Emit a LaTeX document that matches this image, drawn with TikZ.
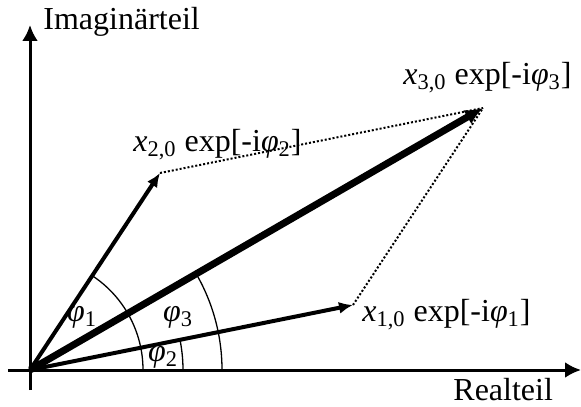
\documentclass[tikz,border=0pt]{standalone}
\usepackage{fontspec}
\setmainfont{Liberation Serif}
\usetikzlibrary{arrows.meta}

\begin{document}
\begin{tikzpicture}[x=0.5pt, y=0.5pt, >={Latex[length=8pt, width=8pt]},
  every node/.style={font=\fontsize{16}{19}\selectfont, inner sep=0pt},
  axis/.style={->, line width=1.5pt},
  zeiger/.style={-{Latex[length=7pt, width=6pt]}, line width=2pt},
  hilfs/.style={line width=1pt, dash pattern=on 1pt off 1pt},
  winkel/.style={line width=0.65pt}]
  \useasboundingbox (-30,-36) rectangle (551,370);
  % Achsen
  \coordinate (O) at (0,0);
  \coordinate (xa) at (-22,0);
  \coordinate (xe) at (551,0);
  \coordinate (ya) at (0,-20);
  \coordinate (ye) at (0,345);
  \draw[axis] (xa) -- (xe);
  \draw[axis] (ya) -- (ye);
  \node[anchor=west] (re) at (423,-20) {Realteil};
  \node[anchor=west] (im) at (13,348) {Imaginärteil};
  % Zeiger
  \coordinate (z1) at (323,65);
  \coordinate (z2) at (130,197);
  \coordinate (z3) at (453,262);
  \draw[hilfs] (z2) -- (z3);
  \draw[hilfs] (z1) -- (z3);
  \draw[zeiger] (O) -- (z1);
  \draw[zeiger] (O) -- (z2);
  \draw[zeiger, line width=3.5pt, -{Latex[length=9pt, width=8pt]}] (O) -- (z3);
  \node[anchor=west] (l1) at (332,55) {\textit{x}\textsubscript{1,0} exp[-i\textit{φ}\textsubscript{1}]};
  \node[anchor=west] (l2) at (103,225) {\textit{x}\textsubscript{2,0} exp[-i\textit{φ}\textsubscript{2}]};
  \node[anchor=west] (l3) at (373,292) {\textit{x}\textsubscript{3,0} exp[-i\textit{φ}\textsubscript{3}]};
  % Winkel
  \draw[winkel] (56.6:113) arc[start angle=56.6, end angle=0, radius=113];
  \draw[winkel] (11.4:153) arc[start angle=11.4, end angle=0, radius=153];
  \draw[winkel] (30:192) arc[start angle=30, end angle=0, radius=192];
  \node (p1) at (52,53) {\textit{φ}\textsubscript{1}};
  \node (p2) at (133,13) {\textit{φ}\textsubscript{2}};
  \node (p3) at (148,53) {\textit{φ}\textsubscript{3}};
\end{tikzpicture}
\end{document}
